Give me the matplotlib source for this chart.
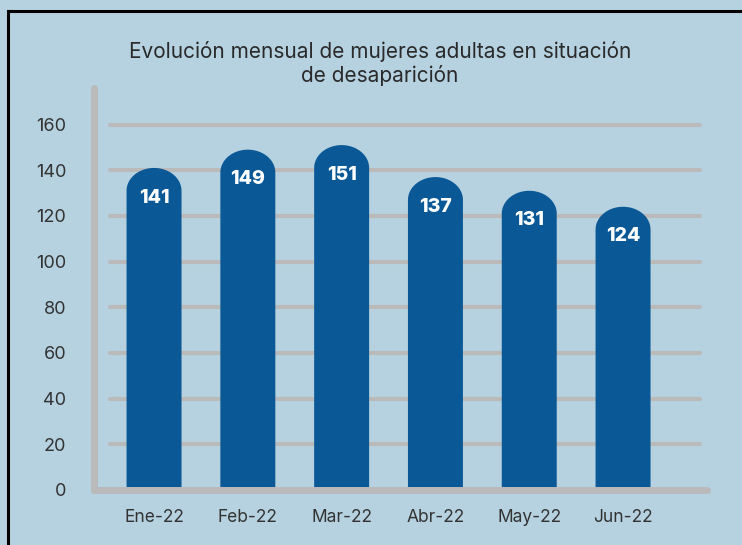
import numpy as np
import matplotlib.pyplot as plt
from matplotlib.patches import Polygon
from matplotlib.lines import Line2D

meses = ['Ene-22', 'Feb-22', 'Mar-22', 'Abr-22', 'May-22', 'Jun-22']
casos = [141, 149, 151, 137, 131, 124]
yticks = [0, 20, 40, 60, 80, 100, 120, 140, 160]

bg = '#b6d2e0'
azul = '#0a5896'
gris = '#bababa'
texto = '#333333'

plt.rcParams['font.family'] = ['Inter', 'DejaVu Sans']

W, H = 742, 545
fig = plt.figure(figsize=(W / 100, H / 100), dpi=100)
fig.patch.set_facecolor(bg)

# marco negro (arriba e izquierda)
fig.add_artist(Line2D([8 / W, 8 / W], [0, 1 - 11 / H], transform=fig.transFigure,
                      color='black', lw=2.2))
fig.add_artist(Line2D([8 / W, 1], [1 - 11 / H, 1 - 11 / H], transform=fig.transFigure,
                      color='black', lw=2.2))

fig.text(380 / W, 1 - 51 / H, 'Evolución mensual de mujeres adultas en situación',
         ha='center', va='center', fontsize=15, color='#2a2a2a')
fig.text(380 / W, 1 - 75 / H, 'de desaparición',
         ha='center', va='center', fontsize=15, color='#2a2a2a')

ax = fig.add_axes([94 / W, (H - 490) / H, (707 - 94) / W, (490 - 88) / H])
ax.set_facecolor('none')
ax.set_xlim(-0.64, 5.895)
ax.set_ylim(0, 176)

x = np.arange(len(meses))
ancho = 0.586
cap = 10  # altura del remate redondeado (unidades de datos)

for v in yticks[1:]:
    ax.plot([-0.47, 5.82], [v, v], color=gris, lw=3, solid_capstyle='round', zorder=1)

t = np.linspace(np.pi, 0, 60)
for xi, v in zip(x, casos):
    arco = np.column_stack([xi + ancho / 2 * np.cos(t), v - cap + cap * np.sin(t)])
    pts = np.vstack([[xi - ancho / 2, 0], arco, [xi + ancho / 2, 0]])
    ax.add_patch(Polygon(pts, closed=True, facecolor=azul, edgecolor='none', zorder=2))
    ax.text(xi, v - 13, str(v), ha='center', va='center', color='white',
            fontsize=14, fontweight='heavy', zorder=3)

for s in ['top', 'right']:
    ax.spines[s].set_visible(False)
for s in ['left', 'bottom']:
    ax.spines[s].set_color(gris)
    ax.spines[s].set_linewidth(5)
    ax.spines[s].set_capstyle('round')

ax.set_yticks(yticks)
ax.set_yticklabels([str(t) for t in yticks])
ax.set_xticks(x)
ax.set_xticklabels(meses)
ax.tick_params(axis='y', length=0, pad=20, labelsize=13, labelcolor=texto)
ax.tick_params(axis='x', length=0, pad=14, labelsize=12.5, labelcolor=texto)

fig.savefig('out.png', dpi=100, facecolor=bg)
